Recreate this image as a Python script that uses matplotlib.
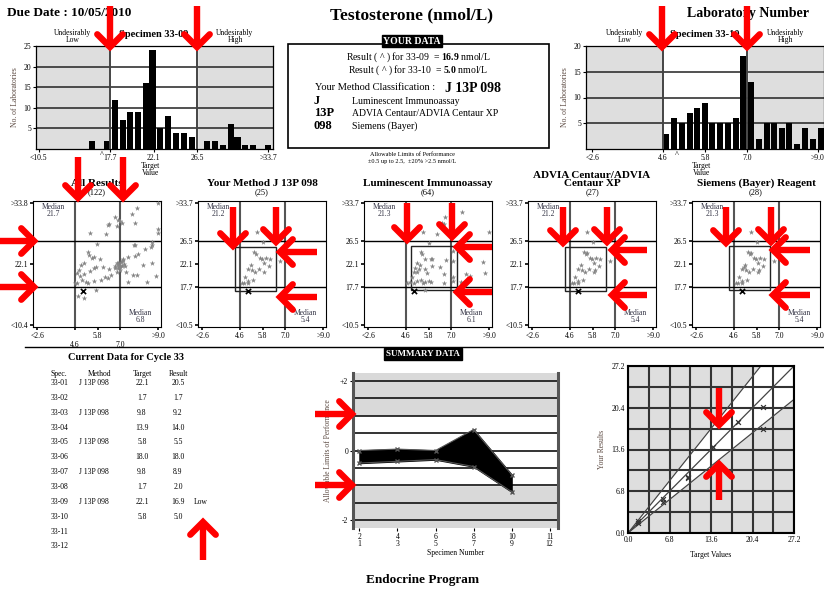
import numpy as np
import matplotlib
matplotlib.use("Agg")
import matplotlib.pyplot as plt
from matplotlib.patches import Rectangle

plt.rcParams['font.family'] = ['Liberation Serif', 'DejaVu Serif']
plt.rcParams['mathtext.fontset'] = 'custom'
plt.rcParams['mathtext.rm'] = 'Liberation Serif'
plt.rcParams['mathtext.bf'] = 'Liberation Serif:bold'

# ---- histogram data (bin centre, number of labs) ----
h09_bins = [15.9, 17.4, 18.2, 19.0, 19.7, 20.5, 21.3, 22.0, 22.8, 23.6, 24.4,
            25.2, 26.0, 27.5, 28.3, 29.1, 29.9, 30.6, 31.4, 32.2, 33.7]
h09_counts = [2, 2, 12, 7, 9, 9, 16, 24, 5, 8, 4, 4, 3, 2, 2, 1, 6, 3, 1, 1, 1]
h10_bins = [4.69, 4.93, 5.14, 5.37, 5.58, 5.79, 6.01, 6.23, 6.45, 6.67, 6.89,
            7.10, 7.33, 7.55, 7.77, 7.98, 8.19, 8.42, 8.65, 8.86, 9.09]
h10_counts = [3, 6, 5, 7, 8, 9, 5, 5, 5, 6, 18, 13, 2, 5, 5, 4, 5, 1, 4, 2, 4]

# ---- youden plots: x = 33-10 result, y = 33-09 result ----
all_x = [9.0, 7.9, 7.6, 6.7, 6.9, 7.0, 7.1, 6.4, 6.35, 6.8, 7.8, 5.4, 6.25, 9.0, 9.0,
         5.75, 7.7, 7.8, 8.7, 8.65, 8.6, 8.3, 7.8, 7.95, 7.4, 7.15,
         6.9, 7.0, 7.1, 6.95, 7.05, 7.2, 6.85, 7.0, 7.1, 6.8, 7.25, 6.9, 7.15, 6.7,
         5.3, 5.35, 5.5, 5.6, 5.9, 5.1, 4.9, 4.8, 4.7, 4.85, 5.1, 5.4, 5.6, 5.7, 6.1,
         6.4, 6.5, 6.35, 6.0, 5.6, 5.3, 5.2, 4.6, 4.7, 4.95, 5.7, 6.2, 6.7, 7.65, 7.9,
         8.2, 8.7, 8.9, 8.4, 7.4, 7.0, 7.3, 6.8, 4.75, 5.1]
all_y = [33.8, 32.8, 31.7, 31.0, 30.6, 30.4, 30.0, 29.8, 29.6, 29.4, 29.9, 28.1, 27.8, 28.8, 28.1,
         26.0, 25.7, 25.7, 26.4, 25.8, 25.4, 25.0, 23.7, 24.0, 23.4, 23.1,
         22.3, 22.0, 21.8, 21.6, 22.4, 22.1, 21.9, 21.5, 22.6, 22.2, 21.7, 21.4, 22.9, 21.7,
         24.4, 23.9, 23.3, 23.5, 23.0, 22.2, 21.9, 21.0, 20.4, 19.8, 20.1, 20.7, 21.4, 21.6, 21.6,
         21.2, 20.0, 19.4, 19.1, 18.8, 18.5, 18.6, 18.4, 18.5, 19.0, 17.2, 19.7, 21.3, 20.0, 20.0,
         21.9, 22.2, 19.8, 18.6, 18.6, 20.9, 20.5, 20.5, 15.9, 15.6]
meth_x = [5.48, 5.8, 5.36, 5.45, 5.66, 5.76, 5.98, 6.2, 6.73, 6.15, 5.89, 5.18,
          5.0, 5.25, 5.4, 5.6, 5.85, 4.88, 5.0, 5.3, 4.7, 4.8, 5.0]
meth_y = [28.3, 26.3, 24.3, 24.1, 23.2, 23.0, 23.2, 23.0, 22.6, 21.7, 22.2, 22.0,
          21.2, 20.9, 20.6, 21.2, 20.5, 19.7, 18.9, 19.0, 18.5, 18.4, 18.4]
lum_x = [7.56, 6.69, 6.48, 6.6, 5.5, 6.25, 9.0, 5.82, 7.09, 8.7, 5.4, 5.45, 5.6, 5.9,
         6.0, 6.7, 7.1, 5.2, 5.35, 6.0, 5.1, 5.3, 5.6, 5.0, 5.2, 5.7, 6.4, 6.6, 7.1,
         7.8, 8.0, 8.8, 4.9, 4.8, 5.2, 5.4, 5.5, 5.6, 5.8, 5.95, 4.65, 5.0, 6.6, 7.1,
         7.5, 5.6]
lum_y = [32.1, 31.1, 29.9, 29.7, 28.2, 27.8, 28.2, 26.2, 24.5, 22.4, 24.3, 24.1, 23.1, 23.1,
         23.0, 22.9, 22.6, 22.2, 21.9, 21.8, 21.3, 21.1, 21.1, 20.6, 20.6, 20.4, 21.5, 20.2, 19.7,
         20.2, 19.9, 20.4, 19.6, 18.7, 18.9, 19.0, 18.5, 18.6, 18.9, 18.7, 18.5, 18.4, 18.5, 18.9,
         18.7, 17.2]
adv_x = meth_x + [5.5, 5.95]
adv_y = meth_y + [24.2, 21.0]
sie_x = adv_x + [5.15]
sie_y = adv_y + [21.5]

# ---- current cycle table ----
specs = ['33-01', '33-02', '33-03', '33-04', '33-05', '33-06',
         '33-07', '33-08', '33-09', '33-10', '33-11', '33-12']
methods = ['J 13P 098', '', 'J 13P 098', '', 'J 13P 098', '',
           'J 13P 098', '', 'J 13P 098', '', '', '']
targets = [22.1, 1.7, 9.8, 13.9, 5.8, 18.0, 9.8, 1.7, 22.1, 5.8]
results = [20.5, 1.7, 9.2, 14.0, 5.5, 18.0, 8.9, 2.0, 16.9, 5.0]
flags = ['', '', '', '', '', '', '', '', 'Low', '']

# ---- summary (allowable limits of performance) ----
pair_labels = ['2\n1', '4\n3', '6\n5', '8\n7', '10\n9', '11\n12']
alp_odd = [-0.36, -0.31, -0.26, -0.46, -1.18]
alp_even = [0.0, 0.04, 0.0, 0.60, -0.69]
lo_slope, hi_slope = 0.8, 1.25

W, H = 824, 590
fig = plt.figure(figsize=(W / 100, H / 100), dpi=100)


def px_axes(l, t, r, b, **kw):
    return fig.add_axes([l / W, 1 - b / H, (r - l) / W, (b - t) / H], **kw)


bg = px_axes(0, 0, W, H, zorder=-5)
bg.set_xlim(0, W)
bg.set_ylim(H, 0)
bg.axis('off')


def txt(x, y, s, **kw):
    kw.setdefault('ha', 'center')
    kw.setdefault('va', 'center')
    bg.text(x, y, s, **kw)


LBL = '#5a4840'

# header texts
txt(7, 13, 'Due Date : 10/05/2010', ha='left', fontsize=9.5, fontweight='bold')
txt(412, 15, 'Testosterone (nmol/L)', fontsize=12.5, fontweight='bold')
txt(748, 14, 'Laboratory Number', fontsize=10, fontweight='bold')


def histogram(l, r, bins, counts, lo, hi, xlim, ymax, xticks, xlabels, mine, spec, width):
    ax = px_axes(l, 46, r, 149)
    ax.set_facecolor('#dedede')
    ax.axvspan(lo, hi, color='white', zorder=0)
    ax.set_yticks(list(range(5, ymax + 1, 5)))
    ax.yaxis.grid(True, color='#222', lw=1.1)
    ax.set_axisbelow(True)
    ax.bar(bins, counts, width=width, color='black', zorder=3)
    for v in (lo, hi):
        ax.axvline(v, color='#444', lw=1.4, zorder=4)
    ax.set_xlim(*xlim)
    ax.set_ylim(0, ymax)
    ax.set_xticks(xticks, xlabels)
    ax.tick_params(labelsize=5.5, length=2, pad=1.5)
    for s in ax.spines.values():
        s.set_linewidth(0.9)
    ax.text(mine, -0.02, '^', transform=ax.get_xaxis_transform(), ha='center', va='top', fontsize=6)
    ax.set_ylabel('No. of Laboratories', fontsize=5.5, color=LBL, labelpad=3)
    cx = (xlim[0] + lo) / 2
    ax.text(cx, 1.02, 'Undesirably\nLow', transform=ax.get_xaxis_transform(), ha='center',
            va='bottom', fontsize=5.5, linespacing=0.85)
    ax.text((hi + xlim[1]) / 2, 1.02, 'Undesirably\nHigh', transform=ax.get_xaxis_transform(),
            ha='center', va='bottom', fontsize=5.5, linespacing=0.85)
    ax.text((lo + hi) / 2, 1.07, 'Specimen ' + spec, transform=ax.get_xaxis_transform(),
            ha='center', va='bottom', fontsize=7.5, fontweight='bold')
    ax.text((lo + hi) / 2 - (hi - lo) * 0.04, -0.13, 'Target\nValue', transform=ax.get_xaxis_transform(),
            ha='center', va='top', fontsize=5.5, linespacing=0.85)
    return ax


histogram(36, 273, h09_bins, h09_counts, 17.7, 26.5, (10.21, 34.19), 25,
          [10.5, 17.7, 22.1, 26.5, 33.7], ['<10.5', '17.7', '22.1', '26.5', '>33.7'], 16.9, '33-09', 0.62)
histogram(586, 824, h10_bins, h10_counts, 4.6, 7.0, (2.42, 9.18), 20,
          [2.6, 4.6, 5.8, 7.0, 9.0], ['<2.6', '4.6', '5.8', '7.0', '>9.0'], 5.0, '33-10', 0.175)

# YOUR DATA box
bg.add_patch(Rectangle((288, 44), 261, 104, fill=False, ec='black', lw=1.2))
txt(412, 41, 'YOUR DATA', fontsize=7, fontweight='bold', color='white',
    bbox=dict(boxstyle='square,pad=0.15', fc='black', ec='black'))
txt(418, 57, r'Result ( ^ ) for 33-09  = $\mathbf{16.9}$ nmol/L', fontsize=7)
txt(418, 70, r'Result ( ^ ) for 33-10  = $\mathbf{5.0}$ nmol/L', fontsize=7)
txt(315, 88, 'Your Method Classification :', ha='left', fontsize=7.5)
txt(445, 88, 'J 13P 098', ha='left', fontsize=10, fontweight='bold')
for yy, code, name in [(101, 'J', 'Luminescent Immunoassay'),
                       (113, '13P', 'ADVIA Centaur/ADVIA Centaur XP'),
                       (126, '098', 'Siemens (Bayer)')]:
    txt(314, yy, code, ha='left', fontsize=9, fontweight='bold')
    txt(352, yy, name, ha='left', fontsize=7)
txt(412, 155, 'Allowable Limits of Performance', fontsize=4.5)
txt(412, 162, '\u00b10.5 up to 2.5,  \u00b120% >2.5 nmol/L', fontsize=4.5)


def youden(l, title, n, xs, ys, med_y, med_x, top, bot, box=True, two_row=False):
    ax = px_axes(l, 201, l + 128, 327)
    ax.set_xlim(2.38, 9.15)
    ax.set_ylim(10.05, 34.15)
    for v in (4.6, 7.0):
        ax.axvline(v, color='#555', lw=1.5, zorder=1)
    for v in (26.5, 17.7):
        ax.axhline(v, color='black', lw=1.0, zorder=1)
    ax.scatter(xs, ys, marker='*', s=17, color='#858585', lw=0, zorder=3)
    ax.scatter([5.0], [16.9], marker='x', s=14, color='black', lw=1.2, zorder=4)
    if box:
        ax.add_patch(Rectangle((0.8 * med_x, 0.8 * med_y), 0.4 * med_x, 0.4 * med_y,
                               fill=False, ec='#222', lw=1.0, zorder=2))
    xl = ['<2.6', '4.6', '5.8', '7.0', '>9.0']
    if two_row:
        xl = ['<2.6', '\n4.6', '5.8', '\n7.0', '>9.0']
    ax.set_xticks([2.6, 4.6, 5.8, 7.0, 9.0], xl)
    ax.set_yticks([bot, 17.7, 22.1, 26.5, top],
                  ['<%.1f' % bot, '17.7', '22.1', '26.5', '>%.1f' % top])
    ax.tick_params(labelsize=5.5, length=2, width=1.2, pad=1.5)
    ax.text(0.16, 0.985, 'Median\n%.1f' % med_y, transform=ax.transAxes, ha='center', va='top',
            fontsize=5.5, color='#334', linespacing=0.85)
    ax.text(0.84, 0.02, 'Median\n%.1f' % med_x, transform=ax.transAxes, ha='center', va='bottom',
            fontsize=5.5, color='#334', linespacing=0.85)
    ax.text(0.5, 1.035, '(%d)' % n, transform=ax.transAxes, ha='center', va='bottom', fontsize=6)
    ax.text(0.5, 1.1, title, transform=ax.transAxes, ha='center', va='bottom', fontsize=8,
            fontweight='bold', linespacing=0.9)
    return ax


youden(33, 'All Results', 122, all_x, all_y, 21.7, 6.8, 33.8, 10.4, box=False, two_row=True)
youden(198, 'Your Method J 13P 098', 25, meth_x, meth_y, 21.2, 5.4, 33.7, 10.5)
youden(364, 'Luminescent Immunoassay', 64, lum_x, lum_y, 21.3, 6.1, 33.7, 10.5)
youden(528, 'ADVIA Centaur/ADVIA\nCentaur XP', 27, adv_x, adv_y, 21.2, 5.4, 33.7, 10.5)
youden(692, 'Siemens (Bayer) Reagent', 28, sie_x, sie_y, 21.3, 5.4, 33.7, 10.5)

bg.plot([25, 824], [347, 347], color='black', lw=1.0)

# current data table
txt(126, 358, 'Current Data for Cycle 33', fontsize=7.5, fontweight='bold')
txt(51, 374, 'Spec.', ha='left', fontsize=5.5)
txt(100, 374, 'Method', fontsize=5.5)
txt(142, 374, 'Target', fontsize=5.5)
txt(178, 374, 'Result', fontsize=5.5)
for i, sp in enumerate(specs):
    yy = 383 + i * 14.85
    txt(51, yy, sp, ha='left', fontsize=5.5)
    txt(79, yy, methods[i], ha='left', fontsize=5.5)
    if i < len(targets):
        txt(142, yy, '%.1f' % targets[i], fontsize=5.5)
        txt(178, yy, '%.1f' % results[i], fontsize=5.5)
        txt(194, yy, flags[i], ha='left', fontsize=5.5)

# summary chart
txt(423, 354, 'SUMMARY DATA', fontsize=6.5, fontweight='bold', color='white',
    bbox=dict(boxstyle='square,pad=0.2', fc='black', ec='black'))
sm = px_axes(353, 373, 558, 528)
sm.set_facecolor('#d9d9d9')
sm.axhspan(-1, 1, color='white', zorder=0)
for v in [-2, -1.5, -1, -0.5, 0, 0.5, 1, 1.5, 2]:
    sm.axhline(v, color='#111', lw=1.2, zorder=1)
pos = [1, 2, 3, 4, 5]
sm.fill_between(pos, alp_odd, alp_even, color='black', zorder=3)
sm.plot(pos, alp_odd, marker='x', color='#555', ms=3.5, lw=0.8, zorder=4)
sm.plot(pos, alp_even, marker='x', color='#555', ms=3.5, lw=0.8, zorder=4)
sm.set_xlim(0.83, 6.22)
sm.set_ylim(-2.22, 2.22)
sm.set_xticks([1, 2, 3, 4, 5, 6], pair_labels, linespacing=0.8)
sm.set_yticks([-2, 0, 2], ['-2', '0', '+2'])
sm.tick_params(labelsize=5.5, length=2, pad=1.5)
for k in ('top', 'bottom'):
    sm.spines[k].set_visible(False)
for k in ('left', 'right'):
    sm.spines[k].set_linewidth(2.2)
    sm.spines[k].set_color('#555')
sm.set_xlabel('Specimen Number', fontsize=5.5, labelpad=1)
sm.set_ylabel('Allowable Limits of Performance', fontsize=5.5, color=LBL, labelpad=6)
txt(423, 580, 'Endocrine Program', fontsize=9.5, fontweight='bold')

# target vs result chart
rc = px_axes(628, 366, 794, 533)
rc.set_facecolor('#dedede')
top = 27.2
rc.fill([0, top / hi_slope, top, top], [0, top, top, top * lo_slope], color='white', zorder=0)
ticks = [0, 6.8, 13.6, 20.4, 27.2]
rc.set_xticks(ticks, ['%.1f' % t for t in ticks])
rc.set_yticks(ticks, ['%.1f' % t for t in ticks])
rc.set_xticks([3.4, 10.2, 17.0, 23.8], minor=True)
rc.set_yticks([3.4, 10.2, 17.0, 23.8], minor=True)
rc.grid(True, which='both', color='#333', lw=1.5)
rc.set_axisbelow(True)
rc.plot([0, top], [0, top], color='#444', lw=0.9, zorder=2)
rc.plot([0, top / hi_slope], [0, top], color='#444', lw=0.9, zorder=2)
rc.plot([0, top], [0, top * lo_slope], color='#444', lw=0.9, zorder=2)
rc.scatter(targets, results, marker='x', s=12, color='#333', lw=0.9, zorder=4)
rc.set_xlim(0, top)
rc.set_ylim(0, top)
rc.tick_params(which='both', labelsize=5.5, length=0, pad=2)
for s in rc.spines.values():
    s.set_linewidth(1.5)
rc.set_xlabel('Target Values', fontsize=5.5, labelpad=5)
rc.set_ylabel('Your Results', fontsize=5.5, color=LBL, labelpad=4)

# red arrows drawn over the page
ov = px_axes(0, 0, W, H, zorder=20)
ov.set_xlim(0, W)
ov.set_ylim(H, 0)
ov.axis('off')
arrows = [(110, 6, 110, 47), (197, 6, 197, 47), (662, 6, 662, 47), (747, 6, 747, 47),
          (78, 157, 78, 198), (123, 157, 123, 198), (0, 241, 34, 241), (0, 287, 34, 287),
          (233, 207, 233, 246), (276, 207, 276, 242), (317, 252, 280, 252), (317, 297, 280, 297),
          (407, 203, 407, 240), (452, 203, 452, 237), (492, 247, 457, 247), (492, 292, 457, 292),
          (563, 207, 563, 243), (607, 207, 607, 242), (647, 250, 612, 250), (647, 295, 612, 295),
          (726, 207, 726, 243), (771, 207, 771, 242), (810, 250, 773, 250), (810, 295, 773, 295),
          (203, 560, 203, 522), (315, 414, 352, 414), (315, 485, 352, 485),
          (719, 388, 719, 425), (719, 500, 719, 464)]
for x0, y0, x1, y1 in arrows:
    d = np.array([x1 - x0, y1 - y0], float)
    d /= np.hypot(*d)
    ov.plot([x0, x1 - 3 * d[0]], [y0, y1 - 3 * d[1]], color='red', lw=4.6, solid_capstyle='butt')
    ends = []
    for ang in (np.pi / 4, -np.pi / 4):
        c, s = np.cos(ang), np.sin(ang)
        rx, ry = -c * d[0] + s * d[1], -s * d[0] - c * d[1]
        ends.append((x1 + 18 * rx, y1 + 18 * ry))
    ov.plot([ends[0][0], x1, ends[1][0]], [ends[0][1], y1, ends[1][1]], color='red', lw=4.6,
            solid_joinstyle='miter', solid_capstyle='round')

fig.savefig('out.png', dpi=100)
